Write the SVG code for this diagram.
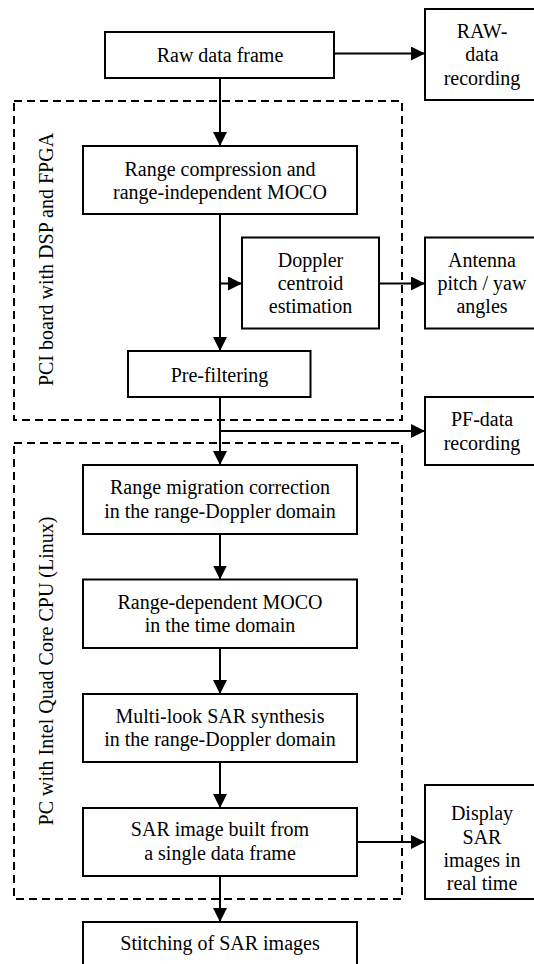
<svg xmlns="http://www.w3.org/2000/svg" width="534" height="964" viewBox="0 0 534 964">
<style>
.box{fill:#fff;stroke:#000;stroke-width:2}
.grp{fill:none;stroke:#000;stroke-width:2;stroke-dasharray:8 5}
.ar{fill:none;stroke:#000;stroke-width:2;marker-end:url(#ah)}
text{font-family:'Liberation Serif','DejaVu Serif',serif;font-size:20px;fill:#000;text-anchor:middle}
</style>
<defs>
<marker id="ah" markerUnits="userSpaceOnUse" markerWidth="14" markerHeight="14" refX="14" refY="7" orient="auto">
<path d="M0,0 L14,7 L0,14 z" fill="#000"/>
</marker>
</defs>
<rect width="534" height="964" fill="#fff"/>
<g id="groups">
<rect class="grp" x="14" y="101" width="388" height="319"/>
<text transform="translate(53,259.5) rotate(-90)">PCI board with DSP and FPGA</text>
<rect class="grp" x="14" y="443" width="388" height="456"/>
<text transform="translate(53,671) rotate(-90)">PC with Intel Quad Core CPU (Linux)</text>
</g>
<g id="connectors">
<line class="ar" x1="334" y1="53.5" x2="425" y2="53.5"/>
<line class="ar" x1="220" y1="78" x2="220" y2="146"/>
<line class="ar" x1="220" y1="214" x2="220" y2="351"/>
<line class="ar" x1="220" y1="283.5" x2="242" y2="283.5"/>
<line class="ar" x1="379" y1="283.5" x2="425" y2="283.5"/>
<line class="ar" x1="220" y1="397" x2="220" y2="465"/>
<line class="ar" x1="220" y1="431" x2="425" y2="431"/>
<line class="ar" x1="220" y1="534" x2="220" y2="579.5"/>
<line class="ar" x1="220" y1="648" x2="220" y2="694"/>
<line class="ar" x1="220" y1="762" x2="220" y2="808"/>
<line class="ar" x1="220" y1="876" x2="220" y2="922"/>
<line class="ar" x1="357" y1="842" x2="425" y2="842"/>
</g>
<g id="raw">
<rect class="box" x="105" y="32" width="229" height="46"/>
<text x="220" y="62">Raw data frame</text>
</g>
<g id="rawrec">
<rect class="box" x="425" y="9" width="114" height="91"/>
<text x="482" y="37.5">RAW-</text>
<text x="482" y="61">data</text>
<text x="482" y="84.5">recording</text>
</g>
<g id="rangecomp">
<rect class="box" x="83" y="146" width="274" height="68"/>
<text x="220" y="175.5">Range compression and</text>
<text x="220" y="199">range-independent MOCO</text>
</g>
<g id="doppler">
<rect class="box" x="242" y="237.5" width="137" height="91"/>
<text x="310.5" y="266.5">Doppler</text>
<text x="310.5" y="289.5">centroid</text>
<text x="310.5" y="312.5">estimation</text>
</g>
<g id="antenna">
<rect class="box" x="425" y="237.5" width="114" height="91"/>
<text x="482" y="266.5">Antenna</text>
<text x="482" y="289.5">pitch / yaw</text>
<text x="482" y="312.5">angles</text>
</g>
<g id="prefilter">
<rect class="box" x="128" y="351" width="182.5" height="46"/>
<text x="219.5" y="381.5">Pre-filtering</text>
</g>
<g id="pfrec">
<rect class="box" x="425" y="397" width="114" height="68"/>
<text x="482" y="426">PF-data</text>
<text x="482" y="449.5">recording</text>
</g>
<g id="rmc">
<rect class="box" x="83" y="465" width="274" height="69"/>
<text x="220" y="494">Range migration correction</text>
<text x="220" y="517.5">in the range-Doppler domain</text>
</g>
<g id="rdmoco">
<rect class="box" x="83" y="579.5" width="274" height="68.5"/>
<text x="220" y="608.5">Range-dependent MOCO</text>
<text x="220" y="631.5">in the time domain</text>
</g>
<g id="multilook">
<rect class="box" x="83" y="694" width="274" height="68"/>
<text x="220" y="723">Multi-look SAR synthesis</text>
<text x="220" y="746">in the range-Doppler domain</text>
</g>
<g id="sarimg">
<rect class="box" x="83" y="808" width="274" height="68"/>
<text x="220" y="836">SAR image built from</text>
<text x="220" y="859.5">a single data frame</text>
</g>
<g id="display">
<rect class="box" x="425" y="785" width="114" height="114"/>
<text x="482" y="820">Display</text>
<text x="482" y="843.5">SAR</text>
<text x="482" y="866.5">images in</text>
<text x="482" y="889.5">real time</text>
</g>
<g id="stitch">
<rect class="box" x="83" y="922" width="274" height="68"/>
<text x="220" y="950">Stitching of SAR images</text>
</g>
</svg>
